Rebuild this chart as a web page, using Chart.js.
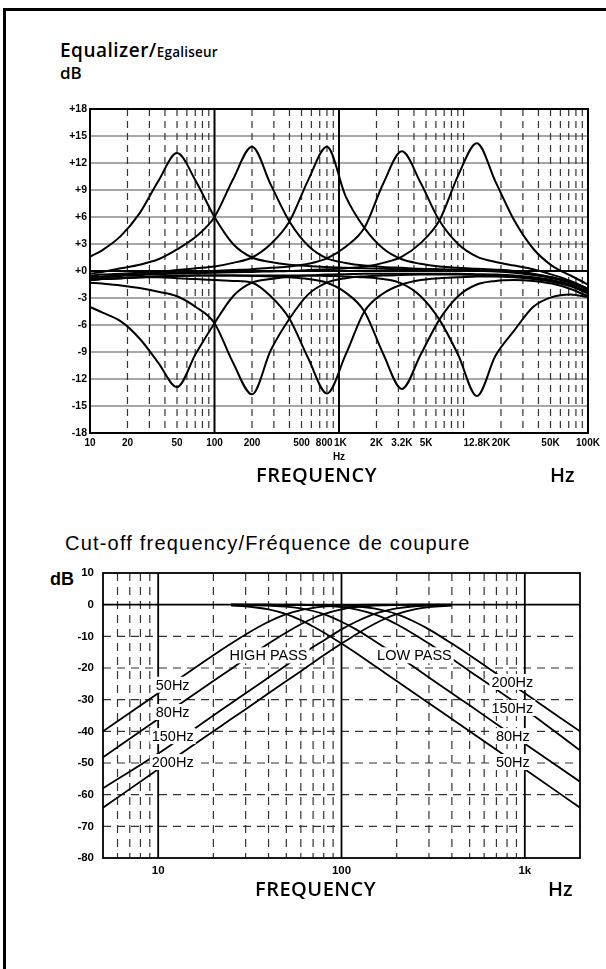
<!DOCTYPE html>
<html>
<head>
<meta charset="utf-8">
<script src="https://cdn.jsdelivr.net/npm/chart.js@4/dist/chart.umd.min.js"></script>
<style>
html, body { margin: 0; padding: 0; background: #fff; }
body { width: 606px; height: 969px; position: relative; overflow: hidden; }
#frame { position: absolute; left: 3px; top: 8px; right: -5px; bottom: -5px; border-top: 3px solid #000; border-left: 3px solid #000; }
.t { position: absolute; white-space: nowrap; line-height: 1; color: #000; }
.os { font-family: "Open Sans", sans-serif; font-weight: 600; }
.ls { font-family: "Liberation Sans", Arial, sans-serif; }
canvas { position: absolute; left: 0; }
</style>
</head>
<body>
<div id="frame"></div>
<div class="t os" style="left:60px;top:41px;font-size:19px;letter-spacing:0.5px">Equalizer/<span style="font-size:13.5px;letter-spacing:0.2px">Egaliseur</span></div>
<div class="t os" style="left:60px;top:64px;font-size:17px">dB</div>
<canvas id="eq" width="606" height="375" style="top:95px"></canvas>
<div class="t os" style="left:256px;top:465px;font-size:20px;letter-spacing:0.5px">FREQUENCY</div>
<div class="t os" style="left:550px;top:465px;font-size:20px">Hz</div>

<div class="t ls" style="left:65px;top:533px;font-size:20px;letter-spacing:1.2px">Cut-off frequency/Fréquence de coupure</div>
<div class="t ls" style="left:50px;top:570px;font-size:18px;font-weight:bold">dB</div>
<canvas id="cut" width="606" height="330" style="top:555px"></canvas>
<div class="t os" style="left:255px;top:879px;font-size:20px;letter-spacing:0.5px">FREQUENCY</div>
<div class="t os" style="left:548px;top:879px;font-size:20px">Hz</div>

<script>
const LS = '"Liberation Sans", Arial, sans-serif';

// ---- equalizer: frequencies (Hz) and the 10 boost / cut curves (dB)
const EQ_FREQ = [10, 12.5, 17.7, 25, 35.4, 50, 70.7, 100, 141, 200, 283, 400, 566, 800, 1131, 1600, 2263, 3200, 4525, 6400, 9051, 12800, 18102, 25600, 36204, 51200, 72408, 100000];

const BOOST_50   = [1.6, 2.3, 3.9, 6.4, 10.0, 13.1, 10.0, 6.0, 3.0, 1.5, 1.0, 0.7, 0.55, 0.45, 0.35, 0.3, 0.25, 0.2, 0.15, 0.1, 0.05, 0.0, -0.05, -0.2, -0.45, -0.8, -1.3, -2.1];
const CUT_50     = [-4.0, -4.6, -5.6, -7.5, -10.2, -12.9, -9.2, -5.8, -2.8, -1.3, -0.9, -0.6, -0.5, -0.4, -0.35, -0.3, -0.3, -0.3, -0.3, -0.3, -0.3, -0.35, -0.4, -0.5, -0.7, -1.0, -1.5, -2.3];
const BOOST_200  = [-0.3, -0.1, 0.3, 0.7, 1.3, 2.4, 3.8, 6.0, 10.2, 13.8, 9.6, 5.5, 2.8, 1.4, 0.9, 0.6, 0.45, 0.35, 0.25, 0.2, 0.15, 0.1, 0.05, -0.1, -0.35, -0.7, -1.2, -2.0];
const CUT_200    = [-1.3, -1.4, -1.6, -1.9, -2.3, -2.8, -4.0, -5.8, -10.2, -13.7, -8.8, -5.3, -2.6, -1.3, -0.8, -0.6, -0.5, -0.45, -0.4, -0.4, -0.4, -0.45, -0.5, -0.6, -0.8, -1.1, -1.6, -2.4];
const BOOST_800  = [-0.5, -0.4, -0.3, -0.2, -0.1, 0.1, 0.3, 0.5, 0.9, 1.5, 3.0, 5.5, 10.1, 13.8, 8.3, 4.8, 2.5, 1.3, 0.8, 0.5, 0.35, 0.25, 0.15, 0.0, -0.3, -0.7, -1.2, -2.0];
const CUT_800    = [-1.0, -0.9, -0.8, -0.7, -0.7, -0.8, -0.9, -1.0, -1.1, -1.3, -2.8, -5.3, -9.7, -13.6, -9.3, -4.5, -2.5, -1.5, -1.0, -0.8, -0.7, -0.6, -0.6, -0.7, -0.9, -1.2, -1.7, -2.5];
const BOOST_3K2  = [-0.7, -0.6, -0.45, -0.35, -0.25, -0.2, -0.1, 0.0, 0.1, 0.2, 0.35, 0.5, 0.8, 1.4, 2.7, 4.8, 9.7, 13.3, 9.8, 5.6, 3.0, 1.6, 1.0, 0.6, 0.2, -0.4, -1.1, -2.0];
const CUT_3K2    = [-1.0, -0.9, -0.8, -0.7, -0.6, -0.55, -0.5, -0.5, -0.5, -0.55, -0.6, -0.7, -0.9, -1.3, -2.4, -4.5, -9.2, -13.1, -9.3, -5.4, -2.8, -1.5, -1.1, -1.0, -1.1, -1.4, -2.0, -2.8];
const BOOST_12K8 = [-0.8, -0.7, -0.55, -0.45, -0.35, -0.3, -0.25, -0.2, -0.15, -0.1, -0.05, 0.0, 0.1, 0.2, 0.3, 0.5, 0.9, 1.6, 3.1, 5.6, 10.6, 14.2, 9.9, 5.6, 2.5, 0.6, -0.5, -1.5];
const CUT_12K8   = [-1.0, -0.9, -0.8, -0.7, -0.6, -0.55, -0.5, -0.5, -0.5, -0.5, -0.5, -0.5, -0.5, -0.55, -0.6, -0.7, -0.9, -1.4, -2.8, -5.4, -9.3, -13.9, -9.4, -6.6, -4.0, -2.9, -2.6, -2.9];

const EQ_X_TICKS  = [10, 20, 50, 100, 200, 500, 800, 1000, 2000, 3200, 5000, 12800, 20000, 50000, 100000];
const EQ_X_LABELS = ['10', '20', '50', '100', '200', '500', '800  ', [' 1K', 'Hz'], '2K', '3.2K', '5K', '12.8K', '20K', '50K', '100K'];

// ---- cut-off filters: frequencies (Hz) and curves (dB), null = not drawn
const CUT_FREQ = [5, 10, 20, 25, 30, 40, 50, 60, 70, 80, 100, 120, 150, 175, 200, 250, 300, 400, 500, 700, 1000, 2000];

const HP_50  = [-40.0, -28.0, -16.0, -12.3, -9.4, -5.4, -3.0, -1.7, -1.0, -0.6, -0.3, -0.1, 0, 0, 0, 0, 0, 0, null, null, null, null];
const HP_80  = [-48.2, -36.1, -24.1, -20.3, -17.1, -12.3, -8.8, -6.2, -4.3, -3.0, -1.5, -0.8, -0.3, -0.2, -0.1, 0, 0, 0, null, null, null, null];
const HP_150 = [-58.0, -47.0, -35.0, -31.1, -28.0, -23.0, -19.1, -16.0, -13.4, -11.3, -7.8, -5.4, -3.0, -1.9, -1.2, -0.5, -0.3, -0.1, null, null, null, null];
const HP_200 = [-64.1, -52.0, -40.0, -36.1, -33.0, -28.0, -24.1, -21.0, -18.3, -16.0, -12.3, -9.4, -6.2, -4.3, -3.0, -1.5, -0.8, -0.3, null, null, null, null];
const LP_50  = [null, null, null, -0.3, -0.5, -1.5, -3.0, -4.9, -6.9, -8.8, -12.3, -15.3, -19.1, -21.8, -24.1, -28.0, -31.1, -36.1, -40.0, -45.8, -52.0, -64.1];
const LP_80  = [null, null, null, 0, -0.1, -0.3, -0.6, -1.2, -2.0, -3.0, -5.4, -7.8, -11.3, -13.8, -16.0, -19.8, -23.0, -28.0, -31.8, -37.7, -43.9, -55.9];
const LP_150 = [null, null, null, 0, 0, 0, -0.1, -0.1, -0.2, -0.3, -0.8, -1.5, -3.0, -4.5, -6.2, -9.4, -12.3, -17.1, -21.0, -26.8, -33.0, -46.0];
const LP_200 = [null, null, null, 0, 0, 0, 0, 0, -0.1, -0.1, -0.3, -0.5, -1.2, -2.0, -3.0, -5.4, -7.8, -12.3, -16.0, -21.8, -28.0, -40.0];

const CUT_X_TICKS  = [10, 100, 1000];
const CUT_X_LABELS = ['10', '100', '1k'];

// curve labels, anchored in data units (Hz, dB)
const CUT_NOTES = [
  { text: 'HIGH PASS', f: 40, db: -16 },
  { text: 'LOW PASS', f: 250, db: -16 },
  { text: '50Hz', f: 12, db: -25.3 },
  { text: '80Hz', f: 12, db: -33.9 },
  { text: '150Hz', f: 12, db: -41.5 },
  { text: '200Hz', f: 12, db: -49.7 },
  { text: '200Hz', f: 855, db: -24.4 },
  { text: '150Hz', f: 855, db: -32.6 },
  { text: '80Hz', f: 860, db: -41.5 },
  { text: '50Hz', f: 860, db: -49.7 }
];

// grid line positions
const EQ_DASHED_X = [10000];
for (const d of [10, 100, 1000, 10000]) for (let m = 2; m <= 9; m++) EQ_DASHED_X.push(m * d);
const EQ_SOLID_X = [100, 1000];
const CUT_DASHED_X = [6, 7, 8, 9];
for (const d of [10, 100]) for (let m = 2; m <= 9; m++) CUT_DASHED_X.push(m * d);
const CUT_SOLID_X = [10, 100, 1000];

function vLine(ctx, a, px, w, color, dash) {
  ctx.beginPath();
  ctx.lineWidth = w; ctx.strokeStyle = color; ctx.setLineDash(dash);
  ctx.moveTo(px, a.top); ctx.lineTo(px, a.bottom);
  ctx.stroke();
}
function hLine(ctx, a, py, w, color, dash) {
  ctx.beginPath();
  ctx.lineWidth = w; ctx.strokeStyle = color; ctx.setLineDash(dash);
  ctx.moveTo(a.left, py); ctx.lineTo(a.right, py);
  ctx.stroke();
}
function box(ctx, a, w) {
  ctx.lineWidth = w; ctx.strokeStyle = '#000'; ctx.setLineDash([]);
  ctx.strokeRect(a.left, a.top, a.right - a.left, a.bottom - a.top);
}

const eqFrame = {
  id: 'eqFrame',
  beforeDatasetsDraw(chart) {
    const { ctx, chartArea: a, scales: { x, y } } = chart;
    ctx.save();
    y.ticks.forEach(t => hLine(ctx, a, y.getPixelForValue(t.value), 1.2, '#505050', []));
    EQ_DASHED_X.forEach(v => vLine(ctx, a, x.getPixelForValue(v), 1.2, '#333', [7, 5]));
    EQ_SOLID_X.forEach(v => vLine(ctx, a, x.getPixelForValue(v), 2, '#000', []));
    hLine(ctx, a, y.getPixelForValue(0), 2, '#000', []);
    ctx.restore();
  },
  afterDatasetsDraw(chart) {
    const { ctx, chartArea: a } = chart;
    ctx.save();
    box(ctx, a, 2);
    ctx.restore();
  }
};

const cutFrame = {
  id: 'cutFrame',
  beforeDatasetsDraw(chart) {
    const { ctx, chartArea: a, scales: { x, y } } = chart;
    ctx.save();
    y.ticks.forEach(t => {
      if (t.value < 0 && t.value > -80) hLine(ctx, a, y.getPixelForValue(t.value), 1.2, '#333', [8, 6]);
    });
    CUT_DASHED_X.forEach(v => vLine(ctx, a, x.getPixelForValue(v), 1.2, '#333', [8, 6]));
    CUT_SOLID_X.forEach(v => vLine(ctx, a, x.getPixelForValue(v), 1.8, '#000', []));
    hLine(ctx, a, y.getPixelForValue(0), 1.8, '#000', []);
    ctx.restore();
  },
  afterDatasetsDraw(chart) {
    const { ctx, chartArea: a, scales: { x, y } } = chart;
    ctx.save();
    box(ctx, a, 1.8);
    ctx.font = '14.5px ' + LS;
    ctx.textAlign = 'center';
    ctx.textBaseline = 'middle';
    CUT_NOTES.forEach(n => {
      const px = x.getPixelForValue(n.f), py = y.getPixelForValue(n.db);
      const w = ctx.measureText(n.text).width;
      ctx.fillStyle = '#fff';
      ctx.fillRect(px - w / 2 - 2, py - 8, w + 4, 16);
      ctx.fillStyle = '#000';
      ctx.fillText(n.text, px, py + 1);
    });
    ctx.restore();
  }
};

function line(points) {
  return {
    data: points,
    borderColor: '#000',
    borderWidth: 2,
    pointRadius: 0,
    fill: false,
    cubicInterpolationMode: 'monotone'
  };
}

const eqSeries = [BOOST_50, CUT_50, BOOST_200, CUT_200, BOOST_800, CUT_800, BOOST_3K2, CUT_3K2, BOOST_12K8, CUT_12K8];

new Chart(document.getElementById('eq'), {
  type: 'line',
  data: { datasets: eqSeries.map(s => line(EQ_FREQ.map((f, i) => ({ x: f, y: s[i] })))) },
  options: {
    responsive: false,
    animation: false,
    events: [],
    layout: { padding: { top: 14, right: 18, bottom: 0, left: 0 } },
    plugins: { legend: { display: false }, tooltip: { enabled: false } },
    scales: {
      x: {
        type: 'logarithmic', min: 10, max: 100000,
        grid: { display: false, drawTicks: false }, border: { display: false },
        afterBuildTicks: s => { s.ticks = EQ_X_TICKS.map(v => ({ value: v })); },
        afterFit: s => { s.height = 37; },
        ticks: {
          autoSkip: false, maxRotation: 0, minRotation: 0, padding: 3, color: '#000',
          font: { family: LS, size: 10, weight: 'bold', lineHeight: 1.4 },
          callback: (v, i) => EQ_X_LABELS[i]
        }
      },
      y: {
        min: -18, max: 18,
        grid: { display: false, drawTicks: false }, border: { display: false },
        afterFit: s => { s.width = 90; },
        ticks: {
          stepSize: 3, padding: 3, color: '#000',
          font: { family: LS, size: 10.5, weight: 'bold' },
          callback: v => (v >= 0 ? '+' + v : String(v))
        }
      }
    }
  },
  plugins: [eqFrame]
});

const cutSeries = [HP_50, HP_80, HP_150, HP_200, LP_50, LP_80, LP_150, LP_200];

new Chart(document.getElementById('cut'), {
  type: 'line',
  data: {
    datasets: cutSeries.map(s => {
      const d = line(CUT_FREQ.map((f, i) => ({ x: f, y: s[i] })).filter(p => p.y !== null));
      d.borderWidth = 1.8;
      return d;
    })
  },
  options: {
    responsive: false,
    animation: false,
    events: [],
    layout: { padding: { top: 18, right: 26, bottom: 0, left: 0 } },
    plugins: { legend: { display: false }, tooltip: { enabled: false } },
    scales: {
      x: {
        type: 'logarithmic', min: 5, max: 2000,
        grid: { display: false, drawTicks: false }, border: { display: false },
        afterBuildTicks: s => { s.ticks = CUT_X_TICKS.map(v => ({ value: v })); },
        afterFit: s => { s.height = 27; },
        ticks: {
          autoSkip: false, maxRotation: 0, minRotation: 0, padding: 6, color: '#000',
          font: { family: LS, size: 11.5, weight: 'bold' },
          callback: (v, i) => CUT_X_LABELS[i]
        }
      },
      y: {
        min: -80, max: 10,
        grid: { display: false, drawTicks: false }, border: { display: false },
        afterFit: s => { s.width = 103; },
        ticks: {
          stepSize: 10, padding: 9, color: '#000',
          font: { family: LS, size: 11.5, weight: 'bold' }
        }
      }
    }
  },
  plugins: [cutFrame]
});
</script>
</body>
</html>
